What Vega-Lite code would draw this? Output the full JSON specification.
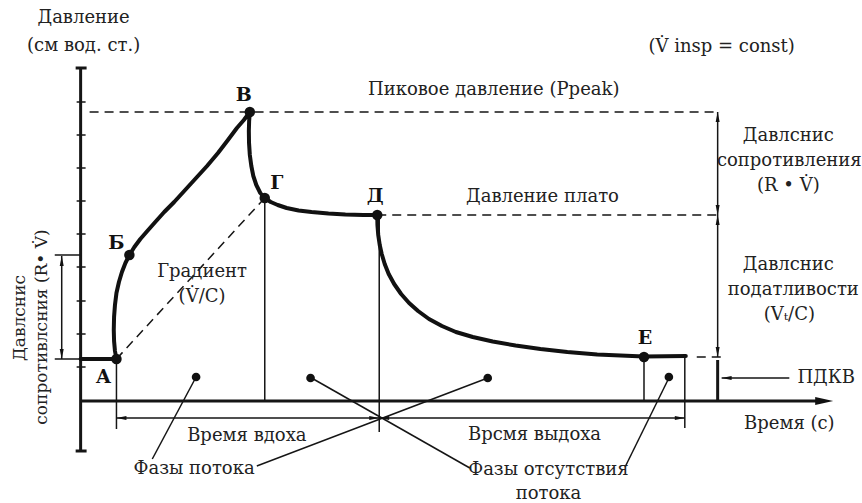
{
  "$schema": "https://vega.github.io/schema/vega-lite/v6.json",
  "width": 862,
  "height": 503,
  "padding": 0,
  "autosize": {"type": "fit", "contains": "padding"},
  "background": "white",
  "config": {"view": {"stroke": null}},
  "datasets": {
    "thin": [
      {"x": 117, "y": 42, "x2": 117, "y2": -28},
      {"x": 266, "y": 203, "x2": 266, "y2": 0},
      {"x": 381, "y": 186, "x2": 381, "y2": -31},
      {"x": 647, "y": 44, "x2": 647, "y2": 0},
      {"x": 688, "y": 45, "x2": 688, "y2": -27},
      {"x": 62, "y": 145, "x2": 62, "y2": 42},
      {"x": 55, "y": 146, "x2": 81, "y2": 146},
      {"x": 55, "y": 42, "x2": 81, "y2": 42},
      {"x": 721, "y": 289, "x2": 721, "y2": 186},
      {"x": 721, "y": 186, "x2": 721, "y2": 44},
      {"x": 117, "y": -17, "x2": 381, "y2": -17},
      {"x": 381, "y": -17, "x2": 688, "y2": -17},
      {"x": 725, "y": 23, "x2": 793, "y2": 23},
      {"x": 197, "y": 24, "x2": 153, "y2": -58},
      {"x": 258, "y": -65, "x2": 490, "y2": 23},
      {"x": 313, "y": 23, "x2": 472, "y2": -67},
      {"x": 672, "y": 23, "x2": 628, "y2": -66},
      {"x": 77, "y": 299, "x2": 86, "y2": 299},
      {"x": 77, "y": 266, "x2": 86, "y2": 266},
      {"x": 77, "y": 233, "x2": 86, "y2": 233},
      {"x": 77, "y": 200, "x2": 86, "y2": 200},
      {"x": 77, "y": 167, "x2": 86, "y2": 167},
      {"x": 77, "y": 134, "x2": 86, "y2": 134},
      {"x": 77, "y": 100, "x2": 86, "y2": 100},
      {"x": 77, "y": 67, "x2": 86, "y2": 67},
      {"x": 77, "y": 34, "x2": 86, "y2": 34}
    ],
    "thick": [
      {"x": 81, "y": 333, "x2": 81, "y2": -50},
      {"x": 81, "y": 0, "x2": 826, "y2": 0},
      {"x": 76, "y": 333, "x2": 87, "y2": 333},
      {"x": 76, "y": -50, "x2": 87, "y2": -50},
      {"x": 721, "y": 41, "x2": 721, "y2": 0}
    ],
    "dashed": [
      {"x": 90, "y": 289, "x2": 723, "y2": 289},
      {"x": 379, "y": 186, "x2": 720, "y2": 186},
      {"x": 117, "y": 42, "x2": 266, "y2": 203},
      {"x": 700, "y": 44, "x2": 728, "y2": 44}
    ],
    "curve": [
      {"i": 0, "x": 81, "y": 42}, {"i": 1, "x": 117, "y": 42},
      {"i": 2, "x": 115.5, "y": 50}, {"i": 3, "x": 114.6, "y": 60},
      {"i": 4, "x": 114.3, "y": 71}, {"i": 5, "x": 114.6, "y": 84},
      {"i": 6, "x": 115.5, "y": 96}, {"i": 7, "x": 117, "y": 108},
      {"i": 8, "x": 119.5, "y": 119}, {"i": 9, "x": 122.5, "y": 129},
      {"i": 10, "x": 126, "y": 138}, {"i": 11, "x": 130, "y": 146},
      {"i": 12, "x": 135, "y": 154}, {"i": 13, "x": 141, "y": 162},
      {"i": 14, "x": 148, "y": 170}, {"i": 15, "x": 156, "y": 179},
      {"i": 16, "x": 165, "y": 189}, {"i": 17, "x": 175, "y": 199},
      {"i": 18, "x": 186, "y": 211}, {"i": 19, "x": 197, "y": 223},
      {"i": 20, "x": 208, "y": 235}, {"i": 21, "x": 219, "y": 248},
      {"i": 22, "x": 229, "y": 261}, {"i": 23, "x": 238, "y": 273},
      {"i": 24, "x": 245, "y": 281}, {"i": 25, "x": 251, "y": 289},
      {"i": 26, "x": 250.3, "y": 280}, {"i": 27, "x": 250, "y": 270},
      {"i": 28, "x": 250.2, "y": 258}, {"i": 29, "x": 251, "y": 246},
      {"i": 30, "x": 252.5, "y": 235}, {"i": 31, "x": 254.5, "y": 225},
      {"i": 32, "x": 257.5, "y": 216}, {"i": 33, "x": 261.5, "y": 208},
      {"i": 34, "x": 266, "y": 203}, {"i": 35, "x": 272, "y": 199},
      {"i": 36, "x": 279, "y": 196}, {"i": 37, "x": 288, "y": 193},
      {"i": 38, "x": 300, "y": 190.5}, {"i": 39, "x": 313, "y": 189},
      {"i": 40, "x": 330, "y": 187.5}, {"i": 41, "x": 347, "y": 186.5},
      {"i": 42, "x": 365, "y": 186}, {"i": 43, "x": 379, "y": 186},
      {"i": 44, "x": 379.2, "y": 176}, {"i": 45, "x": 380, "y": 166},
      {"i": 46, "x": 381.5, "y": 156}, {"i": 47, "x": 383.5, "y": 147},
      {"i": 48, "x": 386.5, "y": 137}, {"i": 49, "x": 390.5, "y": 127},
      {"i": 50, "x": 396, "y": 117}, {"i": 51, "x": 403, "y": 107},
      {"i": 52, "x": 411, "y": 98}, {"i": 53, "x": 420, "y": 90},
      {"i": 54, "x": 431, "y": 82}, {"i": 55, "x": 444, "y": 75},
      {"i": 56, "x": 458, "y": 69}, {"i": 57, "x": 475, "y": 64},
      {"i": 58, "x": 495, "y": 59.5}, {"i": 59, "x": 518, "y": 55.5},
      {"i": 60, "x": 543, "y": 52}, {"i": 61, "x": 570, "y": 49},
      {"i": 62, "x": 600, "y": 46.5}, {"i": 63, "x": 647, "y": 44.5},
      {"i": 64, "x": 689, "y": 45}
    ],
    "keys": [
      {"x": 117, "y": 42}, {"x": 130, "y": 146}, {"x": 251, "y": 289},
      {"x": 266, "y": 203}, {"x": 379, "y": 186}, {"x": 647, "y": 44}
    ],
    "flow": [
      {"x": 197, "y": 24}, {"x": 312, "y": 23}, {"x": 490, "y": 23}, {"x": 672, "y": 24}
    ],
    "arrUp": [{"x": 62, "y": 140}, {"x": 721, "y": 284}, {"x": 721, "y": 181}],
    "arrDown": [{"x": 62, "y": 47}, {"x": 721, "y": 191}, {"x": 721, "y": 49}],
    "arrLeft": [{"x": 122, "y": -17}, {"x": 386, "y": -17}, {"x": 730, "y": 23}],
    "arrRight": [{"x": 376, "y": -17}, {"x": 683, "y": -17}],
    "bigArrow": [{"x": 828, "y": 0}],
    "labels": [
      {"x": 84, "y": 383, "t": "Давление"},
      {"x": 84, "y": 355, "t": "(см вод. ст.)"},
      {"x": 725, "y": 354, "t": "(V\u0307 insp = const)"},
      {"x": 496, "y": 311, "t": "Пиковое давление (Ppeak)"},
      {"x": 545, "y": 204, "t": "Давление плато"},
      {"x": 792, "y": 265, "t": "Давлснис"},
      {"x": 793, "y": 240, "t": "сопротивления"},
      {"x": 792, "y": 215, "t": "(R • V\u0307)"},
      {"x": 792, "y": 136, "t": "Давлснис"},
      {"x": 797, "y": 111, "t": "податливости"},
      {"x": 793, "y": 86, "t": "(Vₜ/C)"},
      {"x": 830, "y": 23, "t": "ПДКВ"},
      {"x": 793, "y": -23, "t": "Время (с)"},
      {"x": 248, "y": -35, "t": "Время вдоха"},
      {"x": 537, "y": -34, "t": "Врсмя выдоха"},
      {"x": 195, "y": -68, "t": "Фазы потока"},
      {"x": 551, "y": -69, "t": "Фазы отсутствия"},
      {"x": 551, "y": -93, "t": "потока"},
      {"x": 203, "y": 129, "t": "Градиент"},
      {"x": 203, "y": 104, "t": "(V\u0307/C)"}
    ],
    "rotated": [
      {"x": 20, "y": 83, "t": "Давлснис"},
      {"x": 42, "y": 74, "t": "сопротивлсния (R• V\u0307)"}
    ],
    "letters": [
      {"x": 104, "y": 24, "t": "А"},
      {"x": 117, "y": 158, "t": "Б"},
      {"x": 245, "y": 306, "t": "В"},
      {"x": 278, "y": 218, "t": "Г"},
      {"x": 377, "y": 205, "t": "Д"},
      {"x": 648, "y": 63, "t": "Е"}
    ]
  },
  "encoding": {
    "x": {"field": "x", "type": "quantitative", "axis": null, "scale": {"domain": [0, 862], "nice": false, "zero": false}},
    "y": {"field": "y", "type": "quantitative", "axis": null, "scale": {"domain": [-102, 401], "nice": false, "zero": false}}
  },
  "layer": [
    {"data": {"name": "thin"}, "mark": {"type": "rule", "color": "#151515", "strokeWidth": 1.5},
     "encoding": {"x2": {"field": "x2"}, "y2": {"field": "y2"}}},
    {"data": {"name": "thick"}, "mark": {"type": "rule", "color": "#151515", "strokeWidth": 3},
     "encoding": {"x2": {"field": "x2"}, "y2": {"field": "y2"}}},
    {"data": {"name": "dashed"}, "mark": {"type": "rule", "color": "#151515", "strokeWidth": 1.5, "strokeDash": [9, 6]},
     "encoding": {"x2": {"field": "x2"}, "y2": {"field": "y2"}}},
    {"data": {"name": "curve"}, "mark": {"type": "line", "color": "#111", "strokeWidth": 4, "interpolate": "linear", "strokeJoin": "round", "strokeCap": "round"},
     "encoding": {"order": {"field": "i", "type": "quantitative"}}},
    {"data": {"name": "keys"}, "mark": {"type": "point", "filled": true, "color": "#111", "size": 110, "opacity": 1}, "encoding": {}},
    {"data": {"name": "flow"}, "mark": {"type": "point", "filled": true, "color": "#111", "size": 75, "opacity": 1}, "encoding": {}},
    {"data": {"name": "arrUp"}, "mark": {"type": "point", "filled": true, "color": "#111", "size": 100, "opacity": 1, "shape": "M0,-1L0.4,1L-0.4,1Z"}, "encoding": {}},
    {"data": {"name": "arrDown"}, "mark": {"type": "point", "filled": true, "color": "#111", "size": 100, "opacity": 1, "shape": "M0,1L0.4,-1L-0.4,-1Z"}, "encoding": {}},
    {"data": {"name": "arrLeft"}, "mark": {"type": "point", "filled": true, "color": "#111", "size": 100, "opacity": 1, "shape": "M-1,0L1,-0.4L1,0.4Z"}, "encoding": {}},
    {"data": {"name": "arrRight"}, "mark": {"type": "point", "filled": true, "color": "#111", "size": 100, "opacity": 1, "shape": "M1,0L-1,-0.4L-1,0.4Z"}, "encoding": {}},
    {"data": {"name": "bigArrow"}, "mark": {"type": "point", "filled": true, "color": "#111", "size": 324, "opacity": 1, "shape": "M1,0L-1,-0.45L-1,0.45Z"}, "encoding": {}},
    {"data": {"name": "labels"}, "mark": {"type": "text", "font": "DejaVu Serif", "fontSize": 18, "color": "#222", "baseline": "middle", "align": "center"},
     "encoding": {"text": {"field": "t"}}},
    {"data": {"name": "rotated"}, "mark": {"type": "text", "font": "DejaVu Serif", "fontSize": 17, "color": "#222", "baseline": "middle", "align": "center", "angle": 270},
     "encoding": {"text": {"field": "t"}}},
    {"data": {"name": "letters"}, "mark": {"type": "text", "font": "DejaVu Serif", "fontSize": 19, "fontWeight": "bold", "color": "#111", "baseline": "middle", "align": "center"},
     "encoding": {"text": {"field": "t"}}}
  ]
}
